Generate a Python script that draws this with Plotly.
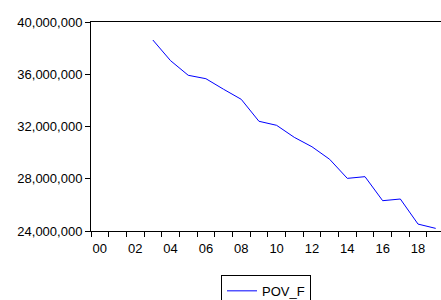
import plotly.graph_objects as go

years = list(range(2003, 2020))
pov_f = [38620000, 37040000, 35920000, 35660000, 34850000, 34080000, 32400000,
         32090000, 31170000, 30450000, 29490000, 28030000, 28160000, 26320000,
         26450000, 24530000, 24200000]
x_labels_years = list(range(2000, 2019, 2))
x_labels = [f"{y % 100:02d}" for y in x_labels_years]
y_ticks = [24000000, 28000000, 32000000, 36000000, 40000000]

fig = go.Figure()
fig.add_trace(go.Scatter(x=years, y=pov_f, mode="lines", name="POV_F",
                         line=dict(color="#0000ff", width=1)))

fig.update_layout(
    width=441, height=300,
    margin=dict(l=91, r=0, t=22, b=69, autoexpand=False),
    paper_bgcolor="white", plot_bgcolor="white",
    font=dict(family="Liberation Sans, Arial", size=13, color="black"),
    showlegend=True,
    legend=dict(orientation="h", x=0.5, xanchor="center", y=-0.21, yanchor="top",
                bordercolor="black", borderwidth=1, font=dict(size=13),
                itemwidth=30),
)
fig.update_xaxes(
    range=[1999.5, 2019.3], showgrid=False, zeroline=False, automargin=False,
    showline=True, linecolor="black", linewidth=1, mirror=True,
    tickmode="array", tickvals=x_labels_years, ticktext=x_labels,
    ticks="outside", ticklen=5, tickcolor="rgba(0,0,0,0)",
    minor=dict(tickmode="array", tickvals=[y + 0.5 for y in range(1999, 2020)],
               ticks="outside", ticklen=5, tickcolor="black", showgrid=False),
)
fig.update_yaxes(
    range=[24000000, 40000000], showgrid=False, zeroline=False, automargin=False,
    showline=True, linecolor="black", linewidth=1, mirror=False,
    tickmode="array", tickvals=y_ticks, tickformat=",d",
    ticks="outside", ticklen=5, tickcolor="black",
)
fig.write_html("out.html", config={"displayModeBar": False},
               post_script="document.body.style.margin='0';document.body.style.overflow='hidden';")
